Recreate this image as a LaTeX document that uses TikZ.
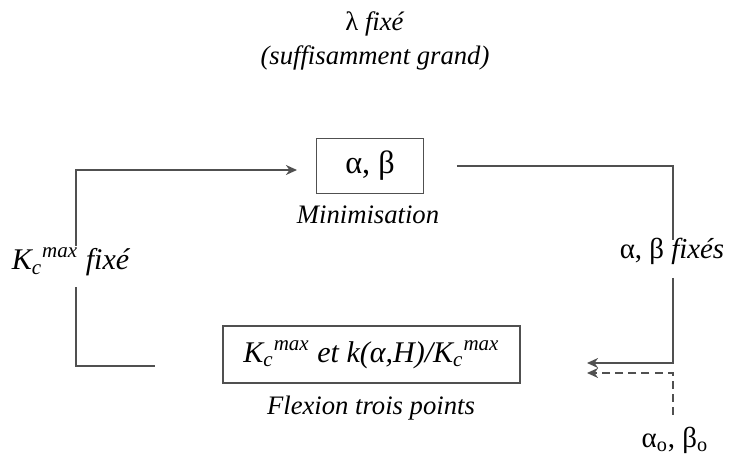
\documentclass[tikz,border=0pt]{standalone}
\usepackage{fontspec}
\setmainfont{Liberation Serif}
\usetikzlibrary{arrows.meta, positioning}
\definecolor{linegray}{RGB}{80,80,80}

\begin{document}
\begin{tikzpicture}[x=0.45pt, y=-0.45pt,
    flow/.style={draw=linegray, line width=0.6pt},
    tip/.style={-{Stealth[length=5pt,width=4.5pt]}},
    stagebox/.style={draw=linegray, line width=0.6pt, inner sep=0pt},
    caption/.style={font=\itshape\fontsize{12}{14}\selectfont},
    big/.style={font=\fontsize{13.5}{16}\selectfont},
    every node/.style={font=\fontsize{12}{14}\selectfont}]
    \useasboundingbox (0,0) rectangle (733,457);

    % Header
    \node (lam) at (375,24) {λ \textit{fixé}};
    \node[caption] (grand) at (375,58) {(suffisamment grand)};

    % Stages
    \node[stagebox, minimum width=48pt, minimum height=25pt,
        font=\fontsize{14.5}{17}\selectfont] (ab) at (370,166) {α, β};
    \node[caption] (mini) at (368,215) {Minimisation};
    \node[stagebox, big, minimum width=133.7pt, minimum height=25.6pt] (kc) at (371.5,354.5)
        {\textit{K\textsubscript{c}\textsuperscript{max} et k(α,H)/K\textsubscript{c}\textsuperscript{max}}};
    \node[caption] (flex) at (371,408) {Flexion trois points};

    % Side labels
    \node[big] (kfix) at (71,262) {\textit{K\textsubscript{c}\textsuperscript{max} fixé}};
    \node[font=\fontsize{13}{15}\selectfont] (abfix) at (672,251) {α, β \textit{fixés}};
    \node[font=\fontsize{13}{15}\selectfont] (ab0) at (675,440) {α\textsubscript{o}, β\textsubscript{o}};

    % Left loop
    \coordinate (kout) at (155,366);
    \coordinate (kgapB) at (76,287);
    \coordinate (kgapT) at (76,246);
    \coordinate (abin) at (297,170);
    \draw[flow] (kout) -| (kgapB);
    \draw[flow, tip] (kgapT) |- (abin);

    % Right loop
    \coordinate (about) at (457,166);
    \coordinate (fgapT) at (673,240);
    \coordinate (fgapB) at (673,278);
    \coordinate (kin) at (587,363);
    \coordinate (kinit) at (587,373);
    \coordinate (init) at (673,415);
    \draw[flow] (about) -| (fgapT);
    \draw[flow, tip] (fgapB) |- (kin);
    \draw[flow, dash pattern=on 3.6pt off 2.3pt, tip] (init) |- (kinit);
\end{tikzpicture}
\end{document}
